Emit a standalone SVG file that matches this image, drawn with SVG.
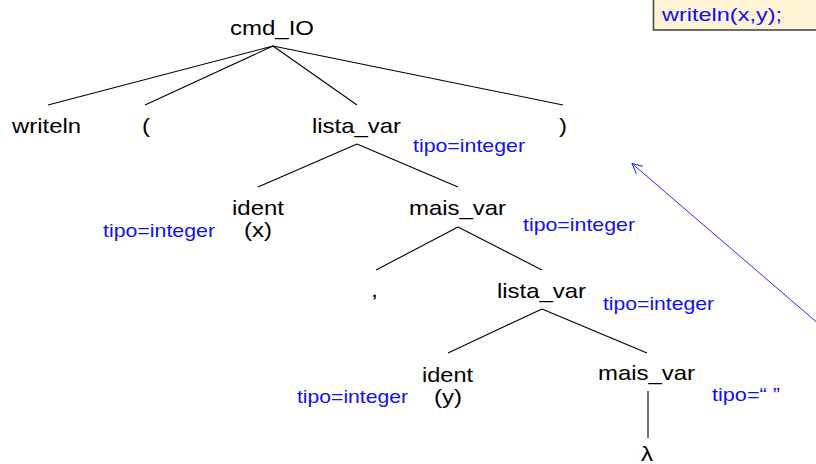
<svg xmlns="http://www.w3.org/2000/svg" width="816" height="464" viewBox="0 0 816 464">
  <style>
    .n { font-family: "Liberation Sans", Arial, sans-serif; font-size: 21px; fill: #000; }
    .t { font-family: "Liberation Sans", Arial, sans-serif; font-size: 18.5px; fill: #1010f0; }
    .e { stroke: #000; stroke-width: 1.1; fill: none; }
    .ref { stroke: #2a2aff; stroke-width: 1; fill: none; }
  </style>
  <defs>
    <marker id="open" viewBox="0 0 12 12" refX="11" refY="6" markerWidth="12" markerHeight="12" markerUnits="userSpaceOnUse" orient="auto">
      <path d="M1,1 L11,6 L1,11" fill="none" stroke="#2a2aff" stroke-width="1"/>
    </marker>
  </defs>
  <rect width="816" height="464" fill="#fff"/>

  <!-- source statement box -->
  <g id="source">
    <rect x="653.5" y="-6" width="200" height="36" fill="#fff4d6" stroke="#4a4a4a" stroke-width="1.6"/>
    <text class="t" x="662" y="21" font-size="20.5" textLength="120" lengthAdjust="spacingAndGlyphs">writeln(x,y);</text>
  </g>

  <!-- tree edges -->
  <g id="edges">
    <line class="e" x1="273" y1="46" x2="48" y2="105"/>
    <line class="e" x1="273" y1="46" x2="145" y2="105"/>
    <line class="e" x1="273" y1="46" x2="357" y2="105"/>
    <line class="e" x1="273" y1="46" x2="563" y2="105"/>
    <line class="e" x1="357" y1="144" x2="258" y2="187"/>
    <line class="e" x1="357" y1="144" x2="458" y2="187"/>
    <line class="e" x1="458" y1="227" x2="376" y2="270"/>
    <line class="e" x1="458" y1="227" x2="542" y2="270"/>
    <line class="e" x1="542" y1="309" x2="448" y2="353"/>
    <line class="e" x1="542" y1="309" x2="647" y2="353"/>
    <line class="e" x1="648" y1="391" x2="648" y2="438"/>
    <line class="ref" x1="817" y1="322.5" x2="632" y2="163.5" marker-end="url(#open)"/>
  </g>

  <!-- nodes -->
  <g id="cmd_IO"><text class="n" x="230" y="35" textLength="84" lengthAdjust="spacingAndGlyphs">cmd_IO</text></g>
  <g id="writeln"><text class="n" x="12" y="133" textLength="69" lengthAdjust="spacingAndGlyphs">writeln</text></g>
  <g id="lparen"><text class="n" x="142" y="133" textLength="8" lengthAdjust="spacingAndGlyphs">(</text></g>
  <g id="lista_var1">
    <text class="n" x="312" y="133" textLength="89" lengthAdjust="spacingAndGlyphs">lista_var</text>
    <text class="t" x="413" y="152" textLength="112" lengthAdjust="spacingAndGlyphs">tipo=integer</text>
  </g>
  <g id="rparen"><text class="n" x="559" y="133" textLength="8" lengthAdjust="spacingAndGlyphs">)</text></g>
  <g id="ident_x">
    <text class="n" x="232" y="215" textLength="52" lengthAdjust="spacingAndGlyphs">ident</text>
    <text class="n" x="244" y="237" textLength="28" lengthAdjust="spacingAndGlyphs">(x)</text>
    <text class="t" x="103" y="237" textLength="112" lengthAdjust="spacingAndGlyphs">tipo=integer</text>
  </g>
  <g id="mais_var1">
    <text class="n" x="409" y="215" textLength="97" lengthAdjust="spacingAndGlyphs">mais_var</text>
    <text class="t" x="523" y="231" textLength="112" lengthAdjust="spacingAndGlyphs">tipo=integer</text>
  </g>
  <g id="comma"><text class="n" x="371" y="297" textLength="7" lengthAdjust="spacingAndGlyphs">,</text></g>
  <g id="lista_var2">
    <text class="n" x="497" y="298" textLength="89" lengthAdjust="spacingAndGlyphs">lista_var</text>
    <text class="t" x="603" y="310" textLength="111" lengthAdjust="spacingAndGlyphs">tipo=integer</text>
  </g>
  <g id="ident_y">
    <text class="n" x="422" y="382" textLength="51" lengthAdjust="spacingAndGlyphs">ident</text>
    <text class="n" x="434" y="404" textLength="28" lengthAdjust="spacingAndGlyphs">(y)</text>
    <text class="t" x="297" y="403" textLength="111" lengthAdjust="spacingAndGlyphs">tipo=integer</text>
  </g>
  <g id="mais_var2">
    <text class="n" x="598" y="380" textLength="97" lengthAdjust="spacingAndGlyphs">mais_var</text>
    <text class="t" x="712" y="401" textLength="68" lengthAdjust="spacingAndGlyphs">tipo=“ ”</text>
  </g>
  <g id="lambda"><text class="n" x="641" y="461" textLength="12" lengthAdjust="spacingAndGlyphs">λ</text></g>
</svg>
